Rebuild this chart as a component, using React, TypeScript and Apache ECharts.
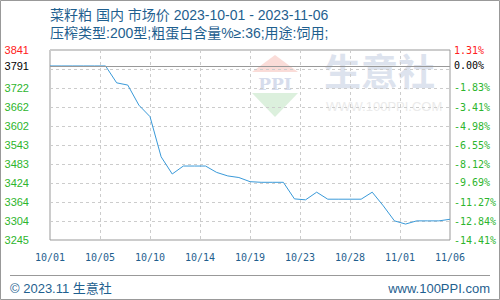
import React, { useEffect, useRef } from "react";
import * as echarts from "echarts";

const dates = [
  "10/01", "10/02", "10/03", "10/04", "10/05", "10/06", "10/07", "10/08", "10/09", "10/10",
  "10/11", "10/12", "10/13", "10/14", "10/15", "10/16", "10/17", "10/18", "10/19", "10/20",
  "10/21", "10/22", "10/23", "10/24", "10/25", "10/26", "10/27", "10/28", "10/29", "10/30",
  "10/31", "11/01", "11/02", "11/03", "11/04", "11/05", "11/06",
];
const prices = [
  3791, 3791, 3791, 3791, 3791, 3791, 3738, 3731, 3668, 3632,
  3506, 3452, 3477, 3477, 3477, 3457, 3446, 3441, 3428, 3426,
  3426, 3426, 3374, 3371, 3395, 3373, 3373, 3373, 3373, 3395,
  3352, 3305, 3295, 3305, 3305, 3305, 3310,
];
const baseValue = 3791;
const yMin = 3245;
const yMax = 3841;
const leftTickValues = [3245, 3304, 3364, 3424, 3483, 3543, 3602, 3662, 3722, 3791, 3841];
const rightTickLabels = [
  "-14.41%", "-12.84%", "-11.27%", "-9.69%", "-8.12%", "-6.55%", "-4.98%", "-3.41%", "-1.83%", "0.00%", "1.31%",
];
const titleLine1 = "菜籽粕 国内 市场价 2023-10-01 - 2023-11-06";
const titleLine2 = "压榨类型:200型;粗蛋白含量%≥:36;用途:饲用;";
const footerLeft = "© 2023.11 生意社";
const footerRight = "www.100PPI.com";

const RED = "#ff2020";
const GREEN = "#2db52d";
const BLUE_TEXT = "#1f5f8f";

function labelColor(v: number) {
  if (v > baseValue) return RED;
  if (v === baseValue) return "#000";
  return GREEN;
}

export default function App() {
  const ref = useRef<HTMLDivElement>(null);
  useEffect(() => {
    if (!ref.current) return;
    const chart = echarts.init(ref.current, null, { renderer: "svg" });
    const gridTicks: number[] = [];
    for (let k = 0; k <= 10; k++) gridTicks.push(yMin + ((yMax - yMin) * k) / 10);
    const cjk = '"Liberation Sans", "Noto Sans CJK SC", sans-serif';
    chart.setOption({
      animation: false,
      grid: {
        left: 50,
        right: 50,
        top: 50,
        bottom: 60,
        show: true,
        borderColor: "#999",
        borderWidth: 1,
        backgroundColor: "transparent",
      },
      xAxis: {
        type: "value",
        min: 0,
        max: dates.length - 1,
        interval: 4.5,
        axisLine: { show: false },
        axisTick: { show: false },
        splitLine: { show: true, lineStyle: { type: [3, 3], color: "#ccc", width: 1 } },
        axisLabel: {
          color: BLUE_TEXT,
          fontFamily: '"DejaVu Sans Mono", monospace',
          fontSize: 10,
          margin: 12,
          showMinLabel: true,
          showMaxLabel: true,
          formatter: (v: number) => dates[Math.floor(v + 1e-6)] ?? "",
        },
      },
      yAxis: [
        {
          type: "value",
          min: yMin,
          max: yMax,
          axisLine: { show: false },
          axisTick: { show: false, customValues: gridTicks },
          splitLine: { show: true, lineStyle: { type: [3, 3], color: "#ccc", width: 1 } },
          axisLabel: {
            customValues: leftTickValues,
            margin: 21,
            fontFamily: '"Liberation Sans", Arial, sans-serif',
            fontSize: 11,
            formatter: (v: any) => String(Math.round(Number(v))),
            color: (v: any) => labelColor(Math.round(Number(v))),
          },
        },
        {
          type: "value",
          min: yMin,
          max: yMax,
          position: "right",
          axisLine: { show: false },
          axisTick: { show: false, customValues: leftTickValues },
          splitLine: { show: false },
          axisLabel: {
            customValues: leftTickValues,
            margin: 4,
            fontFamily: '"DejaVu Sans Mono", monospace',
            fontSize: 10,
            formatter: (v: any) => {
              const i = leftTickValues.indexOf(Math.round(Number(v)));
              return i >= 0 ? rightTickLabels[i] : "";
            },
            color: (v: any) => labelColor(Math.round(Number(v))),
          },
        },
      ],
      series: [
        {
          type: "line",
          yAxisIndex: 0,
          data: prices.map((p, i) => [i, p]),
          showSymbol: false,
          symbol: "none",
          lineStyle: { color: "#3a9ad9", width: 1 },
          itemStyle: { color: "#3a9ad9" },
          markLine: {
            silent: true,
            symbol: "none",
            label: { show: false },
            lineStyle: { color: "#999", type: "solid", width: 1 },
            data: [{ yAxis: baseValue }],
          },
        },
      ],
      graphic: [
        {
          type: "rect",
          z: -20,
          shape: { x: 0.5, y: 0.5, width: 499, height: 299 },
          style: { fill: "#fff", stroke: "#999", lineWidth: 1 },
        },
        {
          type: "polygon",
          z: -10,
          shape: { points: [[252, 72], [298, 72], [275, 55]] },
          style: { fill: "#fadcd8" },
        },
        {
          type: "polygon",
          z: -10,
          shape: { points: [[252, 93], [298, 93], [275, 117]] },
          style: { fill: "#dcf0dd" },
        },
        {
          type: "text",
          z: -10,
          x: 275,
          y: 84,
          style: {
            text: "PPI",
            fill: "#d6dcec",
            font: 'bold 17px "DejaVu Serif", serif',
            align: "center",
            verticalAlign: "middle",
          },
        },
        {
          type: "text",
          z: -10,
          x: 324,
          y: 73,
          style: {
            text: "生意社",
            fill: "#dde3ee",
            font: `bold 37px ${cjk}`,
            align: "left",
            verticalAlign: "middle",
          },
        },
        {
          type: "text",
          z: -10,
          x: 326,
          y: 106,
          style: {
            text: "WWW.100PPI.COM",
            fill: "#ebebeb",
            font: '13px "Liberation Sans", Arial, sans-serif',
            align: "left",
            verticalAlign: "middle",
          },
        },
        {
          type: "text",
          x: 50,
          y: 15,
          style: {
            text: titleLine1,
            fill: BLUE_TEXT,
            font: `14px ${cjk}`,
            verticalAlign: "middle",
          },
        },
        {
          type: "text",
          x: 50,
          y: 33,
          style: {
            text: titleLine2,
            fill: BLUE_TEXT,
            font: `14px ${cjk}`,
            verticalAlign: "middle",
          },
        },
        {
          type: "line",
          shape: { x1: 10, y1: 275.5, x2: 490, y2: 275.5 },
          style: { stroke: "#999", lineWidth: 1 },
        },
        {
          type: "text",
          x: 10,
          y: 288,
          style: { text: footerLeft, fill: BLUE_TEXT, font: `13px ${cjk}`, verticalAlign: "middle" },
        },
        {
          type: "text",
          x: 490,
          y: 288,
          style: {
            text: footerRight,
            fill: BLUE_TEXT,
            font: '13px "Liberation Sans", Arial, sans-serif',
            align: "right",
            verticalAlign: "middle",
          },
        },
      ],
    });
    return () => chart.dispose();
  }, []);
  return (
    <div
      ref={ref}
      style={{ position: "fixed", left: 0, top: 0, width: 500, height: 300, background: "#fff" }}
    />
  );
}
